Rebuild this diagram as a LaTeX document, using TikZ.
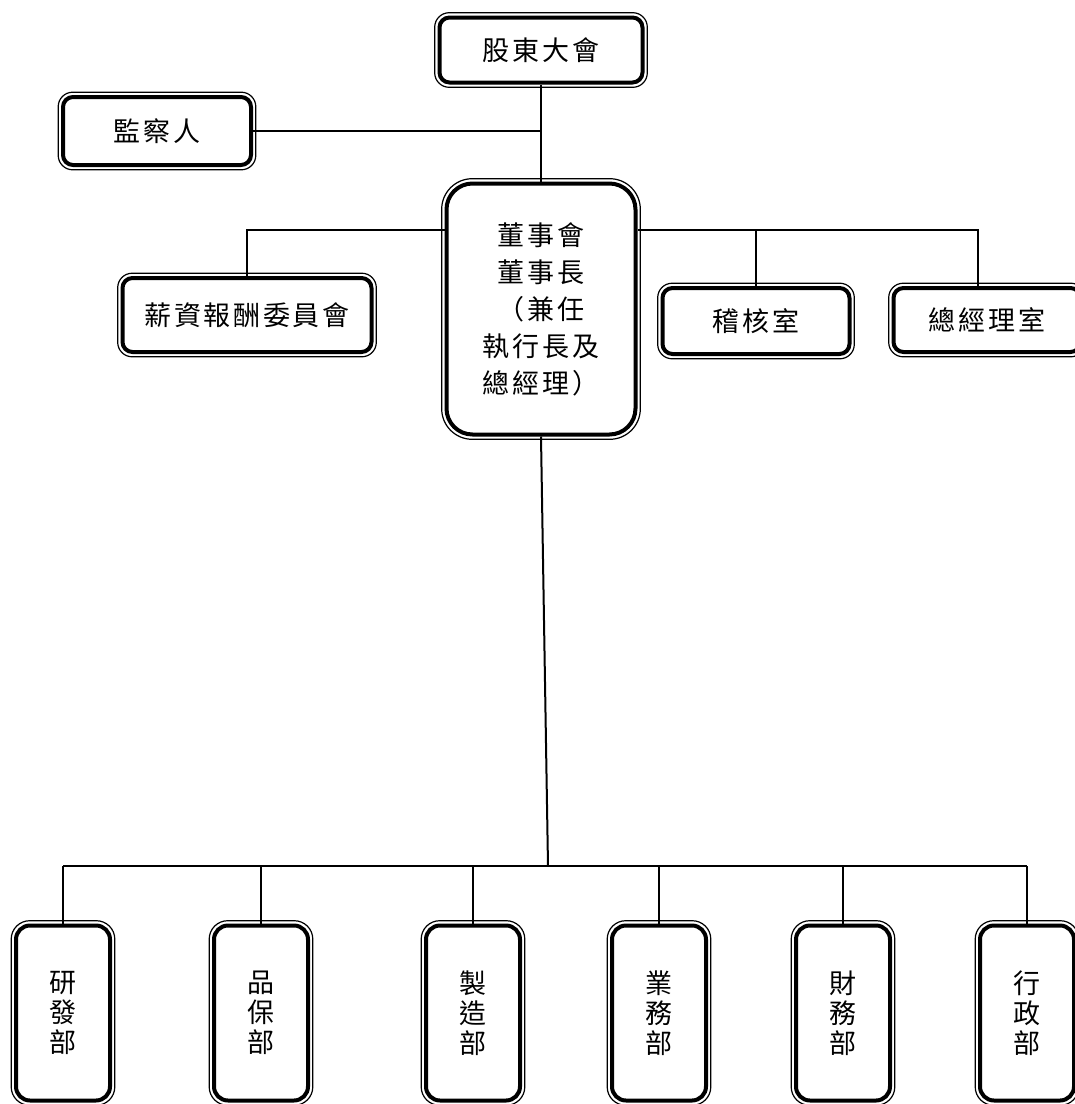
\documentclass[tikz,border=0pt]{standalone}
\usepackage{fontspec}
\newfontfamily\cjk[LetterSpace=10]{Noto Sans CJK TC}
\usetikzlibrary{calc}
\tikzset{
  unit/.style={draw,line width=4pt,rounded corners=#1,fill=white,align=center,
    inner sep=0pt,font=\cjk\fontsize{27}{30}\selectfont,
    append after command={\pgfextra{
      \draw[line width=1.2pt,rounded corners=#1+4.5pt]
        ([shift={(-2.8pt,-2.8pt)}]\tikzlastnode.south west) rectangle
        ([shift={(2.8pt,2.8pt)}]\tikzlastnode.north east);}}},
  unit/.default=10pt,
  dept/.style={unit=14pt,minimum width=94pt,minimum height=175pt},
  link/.style={line width=2pt},
}

\begin{document}
\begin{tikzpicture}[x=1pt,y=-1pt]
  \path[use as bounding box,clip] (0,0) rectangle (1075,1104);
  % top of the chart
  \node[unit,minimum width=203pt,minimum height=65pt] (agm) at (541,50) {股東大會};
  \node[unit,minimum width=188pt,minimum height=68pt] (sup) at (157,131) {監察人};
  \node[unit=26pt,minimum width=189pt,minimum height=251pt,
    font=\cjk\fontsize{27}{37}\selectfont] (board) at (541,309)
    {董事會\\董事長\\（兼任\\執行長及\\總經理）};
  \node[unit,minimum width=249pt,minimum height=74pt] (comp) at (247,315) {薪資報酬委員會};
  \node[unit,minimum width=187pt,minimum height=66pt] (audit) at (756,321) {稽核室};
  \node[unit,minimum width=187pt,minimum height=64pt] (gm) at (987,320) {總經理室};
  \draw[link] (agm) -- (board);
  \draw[link] (sup.east) -- (sup.east -| agm.south);
  \draw[link] ([yshift=-48pt]board.north west) -| (comp.north);
  \coordinate (rb) at ([yshift=-48pt]board.north east);
  \draw[link] (rb) -| ([xshift=-9pt]gm.north);
  \draw[link] (audit.north) -- (audit.north |- rb);
  % departments
  \node[dept] (rd) at (63,1013) {研\\發\\部};
  \node[dept] (qa) at (261,1013) {品\\保\\部};
  \node[dept] (mfg) at (473,1013) {製\\造\\部};
  \node[dept] (sales) at (659,1013) {業\\務\\部};
  \node[dept] (fin) at (843,1013) {財\\務\\部};
  \node[dept] (adm) at (1027,1013) {行\\政\\部};
  \coordinate (hub) at (548,866);
  \draw[link] (board.south) -- (hub);
  \draw[link] (rd.north |- hub) -- (adm.north |- hub);
  \foreach \d in {rd,qa,mfg,sales,fin,adm}
    \draw[link] (\d.north) -- (\d.north |- hub);
\end{tikzpicture}
\end{document}
